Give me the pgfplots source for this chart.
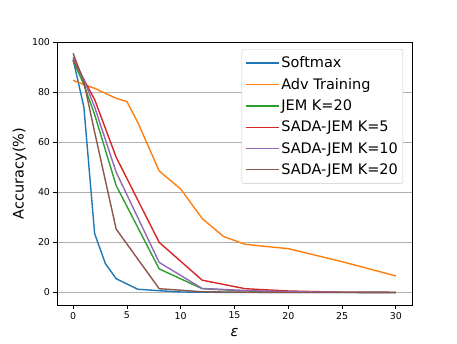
\documentclass[border=0pt]{standalone}
\usepackage{pgfplots}
\pgfplotsset{compat=1.18}
\usepackage{fontspec}
\setmainfont{DejaVu Sans}
\definecolor{c0}{HTML}{1F77B4}
\definecolor{c1}{HTML}{FF7F0E}
\definecolor{c2}{HTML}{2CA02C}
\definecolor{c3}{HTML}{D62728}
\definecolor{c4}{HTML}{9467BD}
\definecolor{c5}{HTML}{8C564B}
\definecolor{gridc}{HTML}{B0B0B0}
\begin{document}
\begin{tikzpicture}
\path[use as bounding box] (-57pt,-38pt) rectangle (400pt,305pt);
\begin{axis}[
  at={(0pt,0pt)}, anchor=south west,
  width=355pt, height=263pt, scale only axis,
  xmin=-1.5, xmax=31.5, ymin=-5, ymax=100,
  xtick={0,5,10,15,20,25,30},
  ytick={0,20,40,60,80,100},
  ymajorgrids, grid style={gridc, line width=0.8pt},
  axis line style={black, line width=0.8pt},
  tick style={black, line width=0.8pt},
  tick align=outside, major tick length=3.5pt,
  xtick pos=bottom, ytick pos=left,
  /pgf/number format/assume math mode=true,
  tick label style={font=\fontsize{9.4}{11}\selectfont},
  xlabel={\itshape ε}, ylabel={Accuracy(\%)},
  label style={font=\fontsize{14.5}{17}\selectfont},
  xlabel style={at={(axis description cs:0.5,0)}, anchor=center, yshift=-28pt},
  ylabel style={at={(axis description cs:0,0.5)}, anchor=center, rotate=0, xshift=0pt},
  every axis y label/.append style={at={(axis description cs:-0.1056,0.5)}},
  legend style={at={(0.975,0.973)}, anchor=north east,
    font=\fontsize{14.5}{17}\selectfont,
    draw=gridc!70, fill=white,
    rounded corners=2pt, row sep=5pt, inner xsep=3pt, inner ysep=5.5pt},
  legend cell align=left,
  legend image code/.code={\draw[#1] (0pt,0pt) -- (33pt,0pt);},
  every axis plot/.append style={line width=1.4pt},
]
\addplot[c0] coordinates {(0,93) (1,74) (2,23.5) (3,11.5) (4,5.5) (6,1.3) (8,0.7) (10,0.2) (12,0.1) (16,0) (20,0) (25,0) (30,0)};
\addlegendentry{Softmax}
\addplot[c1] coordinates {(0,84.7) (1,83) (2,81.5) (3,79.5) (4,77.5) (5,76.2) (6,68) (8,48.5) (10,41.3) (12,29.5) (14,22.3) (16,19.2) (20,17.5) (25,12.3) (30,6.6)};
\addlegendentry{Adv Training}
\addplot[c2] coordinates {(0,92.5) (1,83) (2,71) (4,42.7) (8,9.4) (12,1.5) (16,0.6) (20,0.3) (25,0.1) (30,0)};
\addlegendentry{JEM K=20}
\addplot[c3] coordinates {(0,93) (1,85) (2,77) (4,54) (8,20) (12,4.9) (16,1.5) (20,0.6) (25,0.1) (30,0)};
\addlegendentry{SADA-JEM K=5}
\addplot[c4] coordinates {(0,94) (1,85) (2,74) (4,48) (8,12) (12,1.6) (16,0.8) (20,0.3) (25,0.1) (30,0)};
\addlegendentry{SADA-JEM K=10}
\addplot[c5] coordinates {(0,95.5) (1,84) (2,64) (4,25.3) (8,1.5) (12,0.3) (16,0.1) (20,0) (30,0)};
\addlegendentry{SADA-JEM K=20}
\end{axis}
\end{tikzpicture}
\end{document}
